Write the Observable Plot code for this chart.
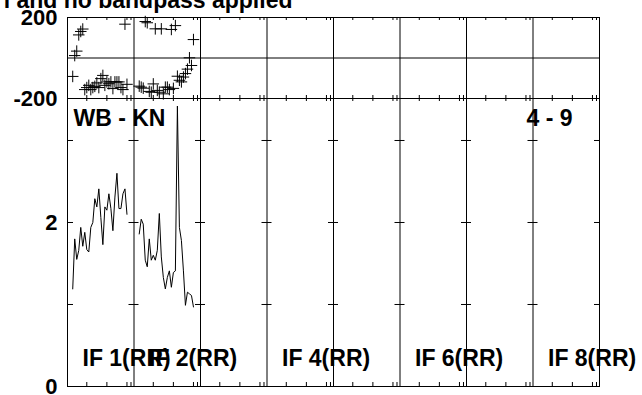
<!DOCTYPE html>
<html><head><meta charset="utf-8">
<script src="https://cdn.jsdelivr.net/npm/d3@7"></script>
<script src="https://cdn.jsdelivr.net/npm/@observablehq/plot@0.6"></script>
<style>
body{margin:0;background:#fff;}
#chart{position:relative;width:642px;height:395px;overflow:hidden;background:#fff;}
#chart svg{position:absolute;left:0;top:0;overflow:visible;background:transparent;}
</style></head><body><div id="chart"></div>
<script>
// ---- data ----
const titleText = "l and no bandpass applied";
const baselineLabel = "WB - KN";
const timeLabel = "4 - 9";
const ifNumbers = [1, 2, 3, 4, 5, 6, 7, 8];
const ifLabelled = [1, 2, 4, 6, 8];
const polarization = "RR";
const channels = [3,4,5,6,7,8,9,10,11,12,13,14,15,16,17,18,19,20,21,22,23,24,25,26,27,28,29,30];
const tickChannels = [10, 20, 30, 32];
const phaseLabelTicks = [-200, 200];
const ampLabelTicks = [0, 2];
const ampMinorTicks = [1, 2, 3];
const phaseIF1 = [-91, 12, 34, 114, 131, 143, -156, -146, -135, -156, -146, -140, -123, -146,
  -102, -86, -135, -118, -127, -118, -151, -118, -118, -118, -146, -156, 167, -130];
const phaseIF2 = [-139, -144, -149, 180, 174, -165, -169, -128, 144, -160, -169, 144, -177, -144,
  -144, -156, 141, -150, 160, -90, -110, -118, -94, -77, -55, 1, -37, 91];
const ampIF1 = [1.19, 1.80, 1.55, 1.66, 1.94, 1.71, 1.88, 1.67, 1.64, 1.94, 2.00, 2.29, 2.19, 2.41,
  2.06, 1.73, 2.19, 2.15, 2.35, 2.17, 1.90, 2.31, 2.60, 2.17, 2.17, 2.35, 2.41, 2.10];
const ampIF2 = [1.86, 2.04, 1.98, 1.54, 1.46, 1.80, 1.54, 1.60, 1.54, 1.66, 2.11, 1.58, 1.33, 1.19,
  1.33, 1.41, 1.21, 1.39, 1.41, 3.42, 1.94, 1.78, 1.41, 0.99, 1.15, 1.13, 1.11, 0.97];

// ---- layout helpers ----
const SPAN = 33.1, START = 0.4, AMP_MAX = 3.512;
const X = (n, c) => (n - 1) * SPAN + c;
const xDomain = [START, ifNumbers.length * SPAN + START];
const bounds = [START, ...ifNumbers.map(n => n * SPAN + START)];
const innerBounds = bounds.slice(1, -1);
const leftBound = [bounds[0]], rightBound = [bounds[bounds.length - 1]];
const tickXs = ifNumbers.flatMap(n => tickChannels.map(c => X(n, c)));

const phaseData = [
  ...channels.map((c, i) => ({ifn: 1, x: X(1, c), y: phaseIF1[i]})),
  ...channels.map((c, i) => ({ifn: 2, x: X(2, c), y: phaseIF2[i]}))
];
const ampData = [
  ...channels.map((c, i) => ({ifn: 1, x: X(1, c), y: ampIF1[i]})),
  ...channels.map((c, i) => ({ifn: 2, x: X(2, c), y: ampIF2[i]}))
];
const hTicks = innerBounds.flatMap(b => ampMinorTicks.map(v => ({b, v})));
const hTicksL = leftBound.flatMap(b => ampMinorTicks.map(v => ({b, v})));
const hTicksR = rightBound.flatMap(b => ampMinorTicks.map(v => ({b, v})));

const font = "'Liberation Sans', Arial, Helvetica, sans-serif";
const common = {
  width: 642, marginLeft: 67, marginRight: 43,
  style: {fontFamily: font, fontSize: "22px", fontWeight: "bold", color: "black", background: "transparent", overflow: "visible"}
};
const fmt = d => String(d);

const phasePlot = Plot.plot({
  ...common,
  height: 100, marginTop: 17, marginBottom: 2,
  x: {domain: xDomain, axis: null},
  y: {domain: [-200, 200], ticks: phaseLabelTicks, tickFormat: fmt, tickSize: 0, tickPadding: 10, label: null},
  marks: [
    Plot.frame({stroke: "black"}),
    Plot.ruleY([0], {stroke: "black"}),
    Plot.ruleX(innerBounds, {stroke: "black"}),
    Plot.ruleX(tickXs, {y1: 200, y2: 200, insetBottom: -3, stroke: "black"}),
    Plot.ruleX(tickXs, {y1: -200, y2: -200, insetTop: -3, stroke: "black"}),
    Plot.dot(phaseData, {x: "x", y: "y", symbol: "plus", r: 3.8, stroke: "black", strokeWidth: 1}),
    Plot.text([titleText], {frameAnchor: "top-left", dx: 225, dy: -10, textAnchor: "end", lineAnchor: "bottom", fontSize: 23, fontWeight: "bold", fill: "black"})
  ]
});

const ampPlot = Plot.plot({
  ...common,
  height: 395, marginTop: 98, marginBottom: 9,
  x: {domain: xDomain, axis: null},
  y: {domain: [0, AMP_MAX], ticks: ampLabelTicks, tickFormat: fmt, tickSize: 0, tickPadding: 10, label: null},
  marks: [
    Plot.frame({stroke: "black"}),
    Plot.ruleX(innerBounds, {stroke: "black"}),
    Plot.ruleY(hTicks, {y: "v", x1: "b", x2: "b", insetLeft: -5, insetRight: -5, stroke: "black"}),
    Plot.ruleY(hTicksL, {y: "v", x1: "b", x2: "b", insetRight: -6, stroke: "black"}),
    Plot.ruleY(hTicksR, {y: "v", x1: "b", x2: "b", insetLeft: -5, stroke: "black"}),
    Plot.ruleX(tickXs, {y1: 0, y2: 0, insetTop: -4, stroke: "black"}),
    Plot.ruleX(tickXs, {y1: AMP_MAX, y2: AMP_MAX, insetBottom: -3, stroke: "black"}),
    Plot.line(ampData, {x: "x", y: "y", z: "ifn", stroke: "black", strokeWidth: 1}),
    Plot.text([baselineLabel], {frameAnchor: "top-left", dx: 6, dy: 27, textAnchor: "start", lineAnchor: "bottom", fontSize: 23, fontWeight: "bold", fill: "black"}),
    Plot.text([timeLabel], {frameAnchor: "top-right", dx: -27, dy: 27, textAnchor: "end", lineAnchor: "bottom", fontSize: 23, fontWeight: "bold", fill: "black"}),
    Plot.text(ifLabelled, {x: n => X(n, START), text: n => `IF ${n}(${polarization})`, frameAnchor: "bottom", dx: 15, dy: -21, textAnchor: "start", lineAnchor: "bottom", fontSize: 23, fontWeight: "bold", fill: "black"})
  ]
});

const chart = document.getElementById("chart");
chart.appendChild(ampPlot);
chart.appendChild(phasePlot);
</script></body></html>
